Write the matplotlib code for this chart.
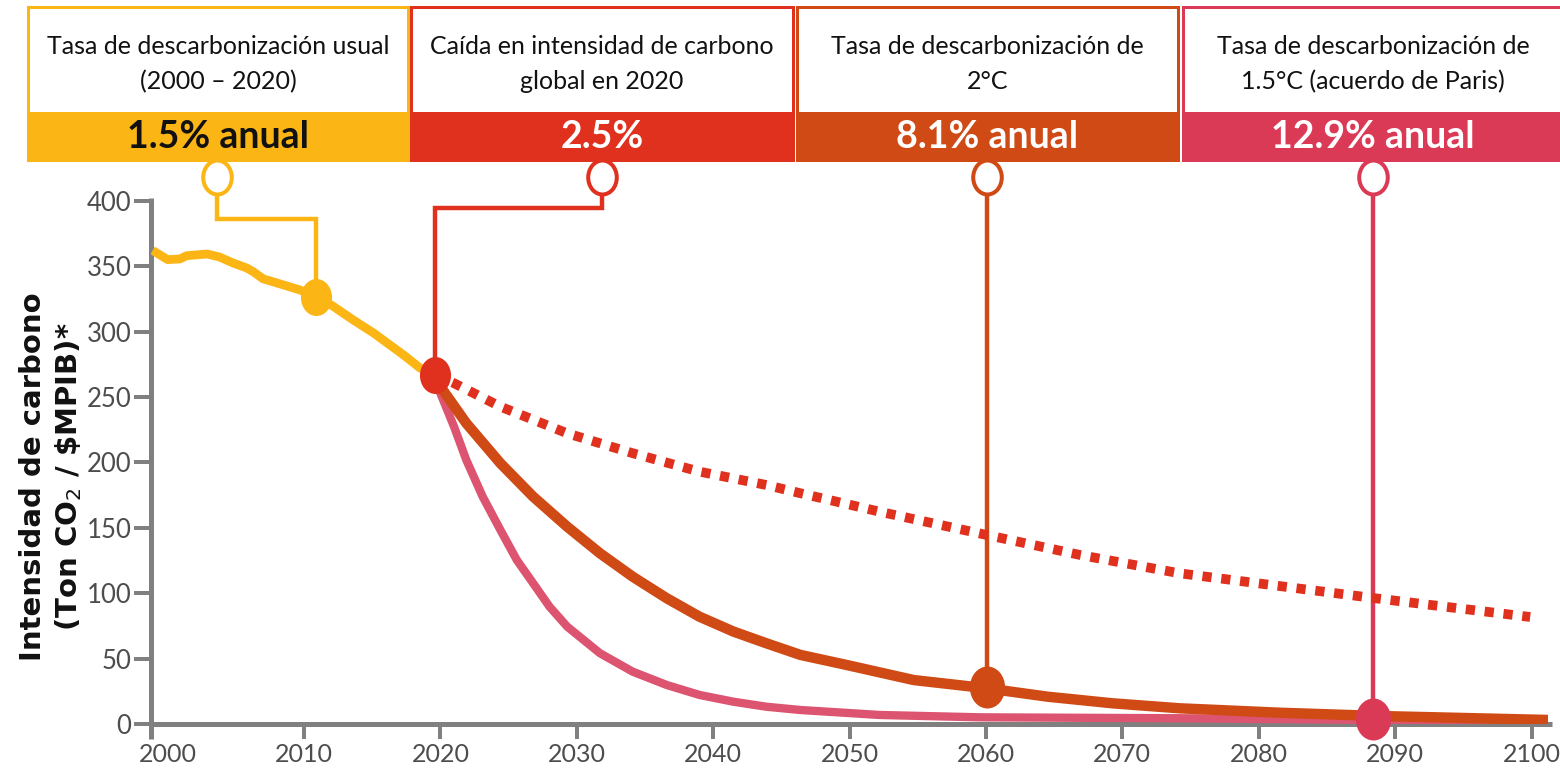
import numpy as np
import matplotlib
matplotlib.use("Agg")
import matplotlib.pyplot as plt
from matplotlib.path import Path
from matplotlib.transforms import Affine2D
from matplotlib.patches import Rectangle

plt.rcParams['font.family'] = ['Lato', 'DejaVu Sans']

# historical carbon intensity 2000-2020
hist_years = [1998.9, 2000.0, 2000.9, 2001.4, 2002.9, 2003.8, 2004.8, 2005.8, 2006.3, 2007.0,
              2008.0, 2009.7, 2010.9, 2012.1, 2013.6, 2015.1, 2016.5, 2017.3, 2018.5, 2019.6]
hist_vals = [362, 355, 355.5, 358, 359.3, 357, 352.4, 348.6, 345.6, 340.3,
             337.2, 331.8, 326.5, 319.6, 308.9, 298.9, 288.2, 282.1, 272.2, 266.8]

# continuation of the 2020 fall (dotted)
trend_years = [2019.6, 2021.0, 2024.4, 2029.3, 2034.1, 2039.0, 2043.9, 2046.4, 2052.2,
               2060.05, 2066.9, 2074.2, 2088.4, 2099.9]
trend_vals = [266.8, 260.5, 242.6, 222.2, 207.0, 192.9, 182.7, 176.4, 162.3,
              144.5, 129.2, 115.2, 96.3, 81.8]

# 2 degree pathway
deg2_years = [2019.6, 2020.0, 2021.9, 2024.4, 2026.8, 2029.3, 2031.7, 2034.1, 2036.6, 2039.0,
              2041.5, 2043.9, 2046.4, 2049.8, 2054.7, 2060.05, 2064.5, 2069.3, 2074.2,
              2081.6, 2088.9, 2101.2]
deg2_vals = [266.8, 257.9, 229.9, 199.3, 173.8, 150.8, 130.5, 112.6, 96.1, 82.0,
             70.6, 61.7, 52.8, 45.1, 33.6, 27.3, 20.9, 15.8, 12.0,
             8.6, 6.1, 3.1]

# 1.5 degree pathway
deg15_years = [2019.6, 2020.0, 2021.0, 2021.9, 2023.1, 2024.4, 2025.6, 2026.8, 2028.0, 2029.3,
               2031.7, 2034.1, 2036.6, 2039.0, 2041.5, 2043.9, 2046.4, 2052.2, 2059.6,
               2074.2, 2088.9, 2101.2]
deg15_vals = [266.8, 252.8, 227.3, 201.8, 173.8, 148.3, 125.4, 107.6, 89.7, 74.4,
              54.1, 40.0, 29.8, 22.2, 17.0, 13.2, 10.7, 6.9, 5.1,
              4.4, 3.1, 2.7]

# callouts
box_titles = ["Tasa de descarbonización usual\n(2000 – 2020)",
              "Caída en intensidad de carbono\nglobal en 2020",
              "Tasa de descarbonización de\n2°C",
              "Tasa de descarbonización de\n1.5°C (acuerdo de Paris)"]
box_values = ["1.5% anual", "2.5%", "8.1% anual", "12.9% anual"]
marker_years = [2010.9, 2019.6, 2060.05, 2088.4]
marker_vals = [326.5, 266.8, 28.3, 3.8]
callout_years = [2003.6, 2031.85, 2060.05, 2088.4]
elbow_vals = [386, 394.5, None, None]

xticks = [2000, 2010, 2020, 2030, 2040, 2050, 2060, 2070, 2080, 2090, 2100]
yticks = [0, 50, 100, 150, 200, 250, 300, 350, 400]

colors = ['#FBB515', '#E0301E', '#D04A15', '#DB3A56']
pink_line = '#DC5470'
value_colors = ['#111111', 'white', 'white', 'white']
grey = '#808080'

W, H = 1560, 768
fig = plt.figure(figsize=(W / 100, H / 100), dpi=100)
px = 72 / 100  # points per pixel

# overlay in pixel coordinates for the header boxes
over = fig.add_axes([0, 0, 1, 1], zorder=0)
over.set_xlim(0, W)
over.set_ylim(H, 0)
over.axis('off')

box_x = [28, 411, 797, 1183]
box_w = [380, 382, 381, 380]
for i in range(4):
    x0, w = box_x[i], box_w[i]
    over.add_patch(Rectangle((x0, 7), w, 153, facecolor='white', edgecolor=colors[i], lw=3 * px))
    over.add_patch(Rectangle((x0, 112), w, 48, facecolor=colors[i], edgecolor=colors[i], lw=1 * px))
    over.text(x0 + w / 2, 64, box_titles[i], ha='center', va='center', fontsize=18,
              color='#111111', linespacing=1.6)
    over.text(x0 + w / 2, 137, box_values[i], ha='center', va='center', fontsize=27,
              fontweight='bold', color=value_colors[i])

ax = fig.add_axes([150.7 / W, 1 - 724 / H, (1552 - 150.7) / W, (724 - 198) / H], zorder=1)
ax.patch.set_alpha(0)

ax.plot(trend_years, trend_vals, color=colors[1], lw=7, linestyle=(0, (0.95, 1.0)),
        dash_capstyle='butt', zorder=2)
ax.plot(deg15_years, deg15_vals, color=pink_line, lw=6, solid_capstyle='butt',
        solid_joinstyle='round', zorder=3)
ax.plot(deg2_years, deg2_vals, color=colors[2], lw=7.5, solid_capstyle='butt',
        solid_joinstyle='round', zorder=4)
ax.plot(hist_years, hist_vals, color=colors[0], lw=6.3, solid_capstyle='butt',
        solid_joinstyle='round', zorder=4)

ell = Path.unit_circle().transformed(Affine2D().scale(0.84, 1.0))
circle_val = 418.2
marker_sizes = [37, 37, 42, 42]
for i in range(4):
    cx = callout_years[i]
    if elbow_vals[i] is not None:
        xs = [cx, cx, marker_years[i], marker_years[i]]
        ys = [circle_val, elbow_vals[i], elbow_vals[i], marker_vals[i]]
    else:
        xs = [cx, cx]
        ys = [circle_val, marker_vals[i]]
    ax.plot(xs, ys, color=colors[i], lw=3.2, clip_on=False, zorder=1,
            solid_joinstyle='miter')
    ax.plot([cx], [circle_val], marker=ell, markersize=34 * px, markerfacecolor='white',
            markeredgecolor=colors[i], markeredgewidth=4 * px, clip_on=False, zorder=7)
    ax.plot([marker_years[i]], [marker_vals[i]], marker=ell, markersize=marker_sizes[i] * px,
            color=colors[i], markeredgewidth=0, clip_on=False, zorder=6)

ax.set_xlim(1998.76, 2101.5)
ax.set_ylim(0, 402.1)
ax.spines['top'].set_visible(False)
ax.spines['right'].set_visible(False)
for s in ['left', 'bottom']:
    ax.spines[s].set_color(grey)
    ax.spines[s].set_linewidth(5 * px)
    ax.spines[s].set_capstyle('butt')

ax.set_xticks(xticks)
ax.set_xticklabels([str(t) for t in xticks])
ax.xaxis.get_major_ticks()[0].tick1line.set_visible(False)
ax.set_xticks([1998.76], minor=True)
ax.set_yticks(yticks)
ax.set_yticklabels([str(t) for t in yticks])
ax.tick_params(axis='x', which='both', length=11, width=4 * px, color=grey, labelsize=18,
               labelcolor='#4d4d4d', pad=3)
ax.tick_params(axis='x', which='minor', width=5 * px)
ax.tick_params(axis='y', length=12, width=4 * px, color=grey, labelsize=18.5,
               labelcolor='#4d4d4d', pad=2)

ax.set_ylabel("Intensidad de carbono\n(Ton CO$_2$ / \\$MPIB)*", family='DejaVu Sans',
              fontweight='bold', fontsize=21, color='#111111', linespacing=1.25)
ax.yaxis.set_label_coords((84 - 150.7) / 1401.3, 0.47)

fig.savefig("out.png", dpi=100, facecolor='white')
